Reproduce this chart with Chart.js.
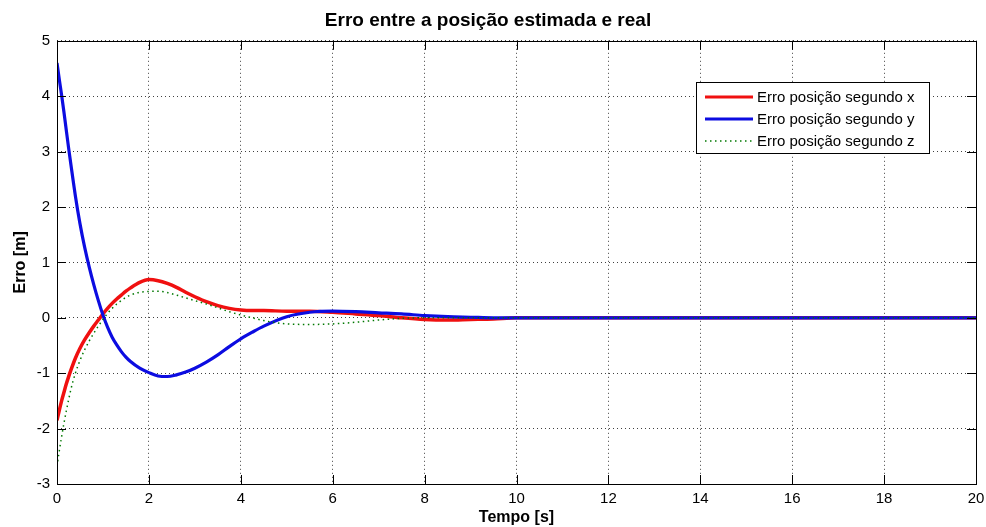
<!DOCTYPE html>
<html>
<head>
<meta charset="utf-8">
<title>Erro entre a posição estimada e real</title>
<script src="https://cdn.jsdelivr.net/npm/chart.js@4/dist/chart.umd.min.js"></script>
<style>
    html, body { margin: 0; padding: 0; background: #fff; }
    #chart { display: block; }
</style>
</head>
<body>
<canvas id="chart" width="986" height="527"></canvas>
<script>
// DATA

const tempo = [0, 0.05, 0.1, 0.15, 0.2, 0.25, 0.3, 0.4, 0.5, 0.6, 0.7, 0.8, 0.9, 1.0,
    1.1, 1.2, 1.3, 1.4, 1.5, 1.6, 1.8, 2.0, 2.2, 2.4, 2.6, 2.8, 3.0, 3.25, 3.5, 3.75, 4.0,
    4.25, 4.5, 5.0, 5.5, 6.0, 6.5, 7.0, 7.5, 8.0, 8.5, 9.0, 9.5, 10, 12, 14, 16, 18, 20];

const erroX = [-1.85, -1.67, -1.5, -1.35, -1.2, -1.07, -0.95, -0.73, -0.55, -0.4, -0.27, -0.15, -0.04, 0.07,
    0.17, 0.26, 0.34, 0.41, 0.48, 0.54, 0.64, 0.69, 0.67, 0.62, 0.55, 0.46, 0.38, 0.29, 0.22, 0.17, 0.14,
    0.13, 0.13, 0.12, 0.12, 0.10, 0.07, 0.04, 0.0, -0.03, -0.04, -0.03, -0.02, 0, 0, 0, 0, 0, 0];

const erroY = [4.6, 4.3, 4.02, 3.72, 3.4, 3.08, 2.78, 2.2, 1.7, 1.28, 0.92, 0.6, 0.31, 0.05,
    -0.17, -0.35, -0.49, -0.61, -0.71, -0.79, -0.91, -0.99, -1.05, -1.06, -1.03, -0.98, -0.91, -0.8, -0.67, -0.52, -0.38,
    -0.26, -0.15, 0.02, 0.1, 0.12, 0.11, 0.09, 0.07, 0.04, 0.02, 0.01, 0, 0, 0, 0, 0, 0, 0];

const erroZ = [-2.68, -2.4, -2.15, -1.91, -1.69, -1.49, -1.3, -1.0, -0.77, -0.58, -0.42, -0.28, -0.15, -0.03,
    0.08, 0.17, 0.25, 0.31, 0.37, 0.41, 0.46, 0.475, 0.48, 0.455, 0.41, 0.36, 0.31, 0.25, 0.18, 0.11, 0.05,
    0.0, -0.05, -0.11, -0.12, -0.11, -0.08, -0.04, -0.01, 0, 0, 0, 0, 0, 0, 0, 0, 0, 0];

const seriesLabels = ["Erro posição segundo x", "Erro posição segundo y", "Erro posição segundo z"];

const xTicks = [0, 2, 4, 6, 8, 10, 12, 14, 16, 18, 20];
const yTicks = [-3, -2, -1, 0, 1, 2, 3, 4, 5];

function toPoints(values) {
    return tempo.map((t, i) => ({ x: t, y: values[i] }));
}

// PLUGINS

// box round the plot plus MATLAB style inward tick marks
const frameTicks = {
    id: "frameTicks",
    afterDraw(chart) {
        const ctx = chart.ctx;
        const a = chart.chartArea;
        const xs = chart.scales.x;
        const ys = chart.scales.y;
        const len = 9;
        ctx.save();
        ctx.strokeStyle = "#000";
        ctx.lineWidth = 1;
        ctx.beginPath();
        xTicks.forEach(v => {
            const px = Math.round(xs.getPixelForValue(v)) + 0.5;
            ctx.moveTo(px, a.bottom); ctx.lineTo(px, a.bottom - len);
            ctx.moveTo(px, a.top); ctx.lineTo(px, a.top + len);
        });
        yTicks.forEach(v => {
            const py = Math.round(ys.getPixelForValue(v)) + 0.5;
            ctx.moveTo(a.left, py); ctx.lineTo(a.left + len, py);
            ctx.moveTo(a.right, py); ctx.lineTo(a.right - len, py);
        });
        ctx.stroke();
        ctx.strokeRect(Math.round(a.left) + 0.5, Math.round(a.top) + 0.5,
            Math.round(a.right - a.left), Math.round(a.bottom - a.top));
        ctx.restore();
    }
};

// legend box in the upper right, inside the plot
const boxLegend = {
    id: "boxLegend",
    afterDraw(chart) {
        const ctx = chart.ctx;
        const x0 = 696, y0 = 82, w = 233, h = 71;
        ctx.save();
        ctx.fillStyle = "#fff";
        ctx.fillRect(x0, y0, w, h);
        ctx.strokeStyle = "#000";
        ctx.lineWidth = 1;
        ctx.strokeRect(x0 + 0.5, y0 + 0.5, w, h);
        ctx.font = '15px "Liberation Sans", Arial, sans-serif';
        ctx.textBaseline = "middle";
        chart.data.datasets.forEach((ds, i) => {
            const y = y0 + 15 + i * 22;
            ctx.strokeStyle = ds.borderColor;
            ctx.lineWidth = ds.borderDash ? 1.5 : 3;
            ctx.setLineDash(ds.borderDash || []);
            ctx.beginPath();
            ctx.moveTo(x0 + 9, y);
            ctx.lineTo(x0 + 57, y);
            ctx.stroke();
            ctx.setLineDash([]);
            ctx.fillStyle = "#000";
            ctx.fillText(ds.label, x0 + 61, y + 1);
        });
        ctx.restore();
    }
};

// CHART

Chart.defaults.font.family = '"Liberation Sans", Arial, sans-serif';
Chart.defaults.color = "#000";

new Chart(document.getElementById("chart"), {
    type: "line",
    data: {
        datasets: [
            {
                label: seriesLabels[0],
                data: toPoints(erroX),
                borderColor: "rgb(240, 16, 16)",
                borderWidth: 3.5,
                order: 2
            },
            {
                label: seriesLabels[1],
                data: toPoints(erroY),
                borderColor: "rgb(12, 12, 225)",
                borderWidth: 3.2,
                order: 1
            },
            {
                label: seriesLabels[2],
                data: toPoints(erroZ),
                borderColor: "rgb(0, 120, 0)",
                borderWidth: 1.5,
                borderDash: [1.5, 3.5],
                order: 0
            }
        ]
    },
    options: {
        responsive: false,
        animation: false,
        devicePixelRatio: 1,
        layout: { padding: { left: 0, right: 10, top: 0, bottom: 0 } },
        elements: {
            point: { radius: 0 },
            line: { cubicInterpolationMode: "monotone", fill: false }
        },
        plugins: {
            legend: { display: false },
            tooltip: { enabled: false },
            title: {
                display: true,
                text: "Erro entre a posição estimada e real",
                font: { size: 19, weight: "bold" },
                padding: { top: 9, bottom: 9 }
            }
        },
        scales: {
            x: {
                type: "linear",
                min: 0,
                max: 20,
                afterBuildTicks: s => { s.ticks = xTicks.map(v => ({ value: v })); },
                afterFit: s => { s.height = 43; s.paddingLeft = 0; s.paddingRight = 0; },
                ticks: { font: { size: 15 }, padding: 6, maxRotation: 0 },
                grid: { color: "rgba(0,0,0,0.75)", drawTicks: false },
                border: { display: false, dash: [1, 3] },
                title: {
                    display: true,
                    text: "Tempo [s]",
                    font: { size: 16, weight: "bold" },
                    padding: { top: 0, bottom: 0 }
                }
            },
            y: {
                type: "linear",
                min: -3,
                max: 5,
                afterBuildTicks: s => { s.ticks = yTicks.map(v => ({ value: v })); },
                afterFit: s => { s.width = 57; s.paddingTop = 0; s.paddingBottom = 0; },
                ticks: { font: { size: 15 }, padding: 7 },
                grid: { color: "rgba(0,0,0,0.75)", drawTicks: false },
                border: { display: false, dash: [1, 3] },
                title: {
                    display: true,
                    text: "Erro [m]",
                    font: { size: 16, weight: "bold" },
                    padding: { top: 11, bottom: 0 }
                }
            }
        }
    },
    plugins: [frameTicks, boxLegend]
});
</script>
</body>
</html>
